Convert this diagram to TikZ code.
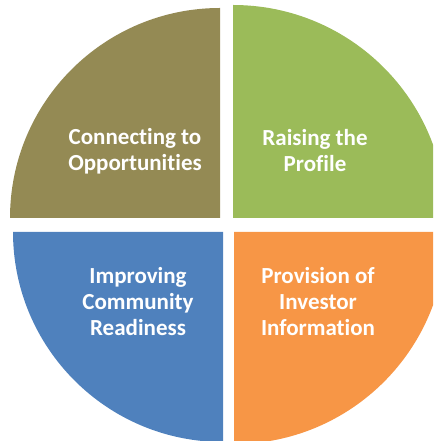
\documentclass[tikz,border=0pt]{standalone}
\usepackage{fontspec}
\setmainfont{Carlito}[Ligatures=NoCommon]
\definecolor{qolive}{HTML}{948A54}
\definecolor{qgreen}{HTML}{9BBB59}
\definecolor{qblue}{HTML}{4F81BD}
\definecolor{qorange}{HTML}{F79646}
\begin{document}
\begin{tikzpicture}[x=1pt,y=1pt,
  lbl/.style={text=white,align=center,font=\fontsize{23}{26}\selectfont\bfseries,inner sep=0pt}]
\useasboundingbox (0,0) rectangle (433,441);
\clip (0,0) rectangle (433,441);
% quadrants
\fill[qolive] (220,223) -- ++(0,210) arc[start angle=90,end angle=180,radius=210] -- cycle;
\fill[qgreen] (233,223) -- ++(213,0) arc[start angle=0,end angle=90,radius=213] -- cycle;
\fill[qblue] (223,209) -- ++(-210,0) arc[start angle=180,end angle=270,radius=210] -- cycle;
\fill[qorange] (234,209) -- ++(0,-212) arc[start angle=270,end angle=360,radius=212] -- cycle;
% labels
\node[lbl] (conn) at (135,290) {Connecting to\\Opportunities};
\node[lbl] (rais) at (315,290) {Raising the\\Profile};
\node[lbl] (impr) at (138,139) {Improving\\Community\\Readiness};
\node[lbl] (prov) at (318,139) {Provision of\\Investor\\Information};
\end{tikzpicture}
\end{document}
